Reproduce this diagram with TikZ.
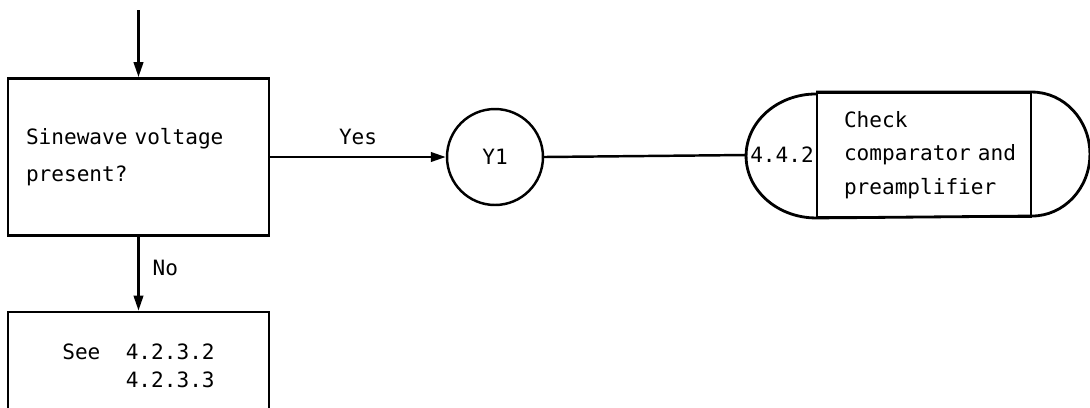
\documentclass[tikz,border=0pt]{standalone}
\usepackage{fontspec}
\setmonofont{DejaVu Sans Mono}[WordSpace={1,0,0}]
\usetikzlibrary{arrows.meta}

\begin{document}
\begin{tikzpicture}[x=0.02cm,y=-0.02cm,
    every node/.style={font=\ttfamily\fontsize{12}{14}\selectfont},
    >={Triangle[length=0.3cm,width=0.19cm]}]
\useasboundingbox (0,0) rectangle (1090,407);
\begin{scope}[flowbox/.style={draw,line width=1.6pt,rectangle,minimum width=5.22cm}]
    \coordinate (in) at (138.5,10);
    \node[flowbox,minimum height=3.14cm,text width=4.5cm,align=left,
          font=\ttfamily\fontsize{12}{21}\selectfont] (sine) at (138.5,157)
        {\mbox{Sinewave\ voltage}\\present?};
    \node[flowbox,minimum height=2.16cm,align=left,
          font=\ttfamily\fontsize{12}{16}\selectfont] (see) at (138.5,366)
        {See\ \ 4.2.3.2\\\hphantom{See\ \ }4.2.3.3};
    \node[draw,line width=1.4pt,circle,minimum size=1.92cm,inner sep=0pt] (y1) at (495,157) {Y1};
    \node[minimum width=1.4cm,minimum height=2.48cm,inner sep=1pt] (ref) at (782,155) {4.4.2};
    \node[draw,line width=1.1pt,minimum width=4.28cm,minimum height=2.48cm,
          text width=3.2cm,align=left,
          font=\ttfamily\fontsize{12}{19}\selectfont] (chk) at (924,155)
        {Check\\\mbox{comparator\ and}\\preamplifier};
\end{scope}
% capsule outline
\draw[line width=1.6pt] (chk.north west) -- (chk.north east)
    arc[start angle=90,end angle=-90,x radius=1.16cm,y radius=1.24cm]
    -- (chk.south west)
    arc[start angle=270,end angle=90,x radius=1.4cm,y radius=1.24cm];
\begin{scope}[flowline/.style={line width=1.4pt}]
    \draw[flowline,->] (in) -- (sine);
    \draw[flowline,->] (sine.east) -- node[above=3pt] (yes) {Yes} (y1.west);
    \draw[flowline,->] (sine) -- node[right=4pt,pos=0.42] (no) {No} (see);
    \draw[flowline] (y1.east) -- (ref.west);
\end{scope}
\end{tikzpicture}
\end{document}
